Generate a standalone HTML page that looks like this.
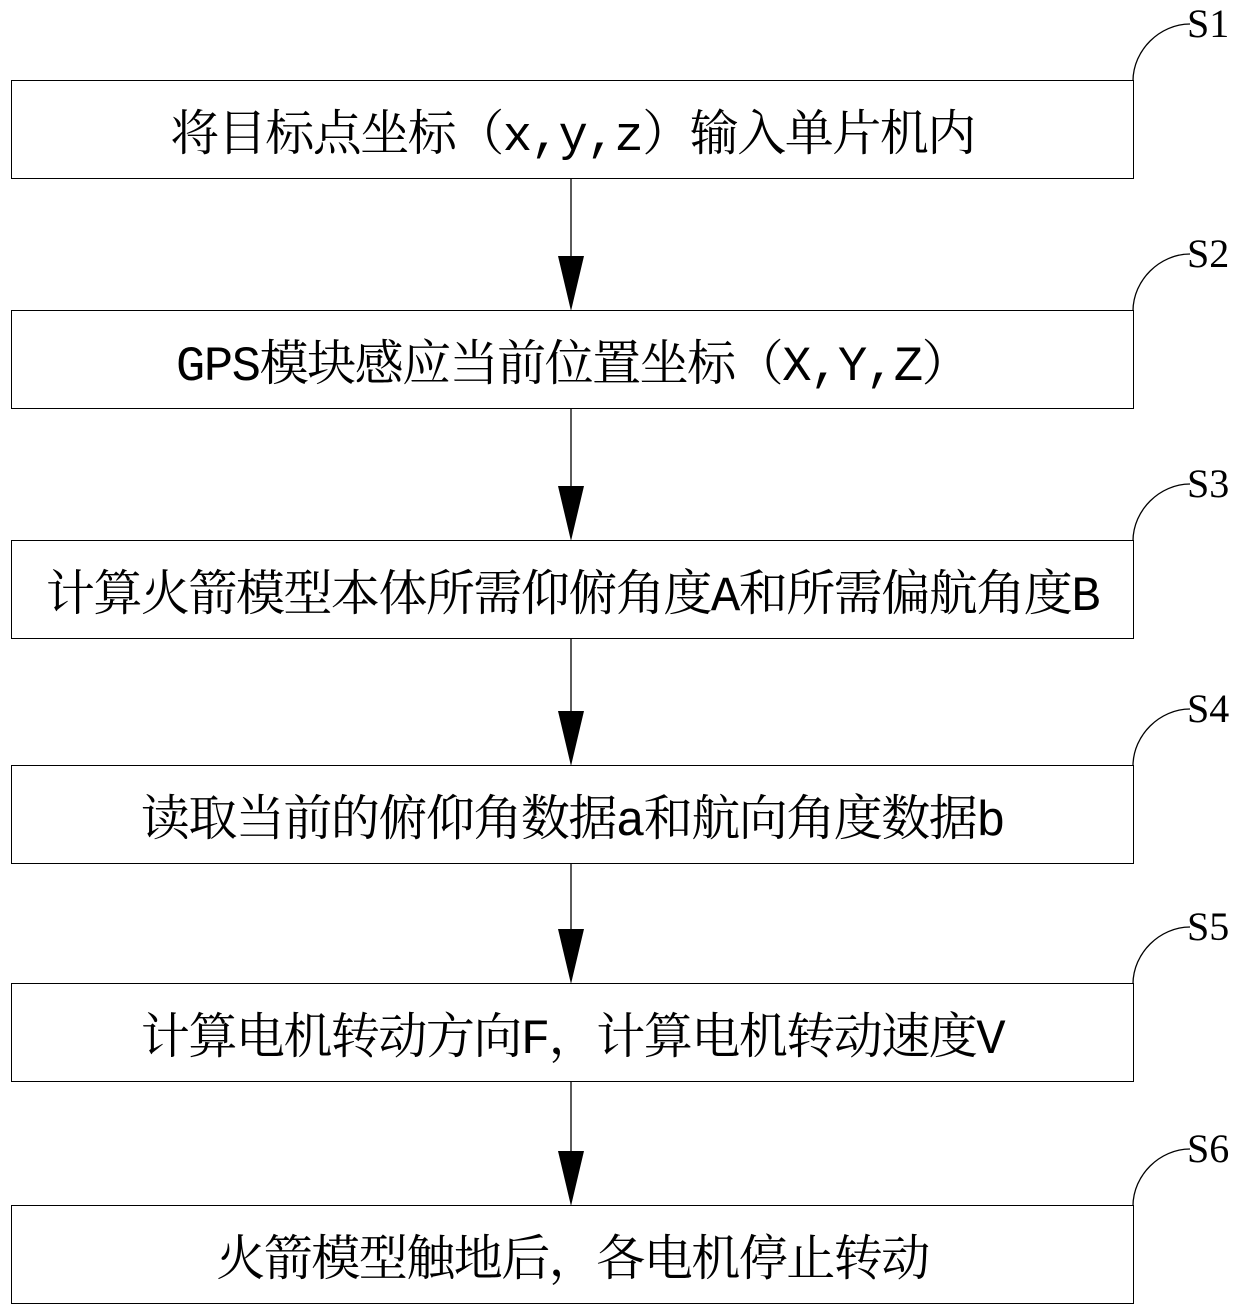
<!DOCTYPE html>
<html><head><meta charset="utf-8"><style>
body{margin:0;width:1240px;height:1314px;background:#fff;position:relative;overflow:hidden;}
.b{position:absolute;left:11px;width:1121px;height:97px;border:1.5px solid #000;display:flex;align-items:center;justify-content:center;font-size:49px;color:#000;white-space:nowrap;font-family:"Liberation Mono","Noto Serif CJK SC","Noto Sans CJK SC",serif;letter-spacing:-1.5px;}
.l{position:absolute;font-size:40px;left:1187px;line-height:40px;font-family:"Liberation Serif",serif;}
svg{position:absolute;left:0;top:0;}
</style></head><body>
<svg width="1240" height="1314">
<g fill="none" stroke="#000" stroke-width="1.3">
<path d="M1133 81 C1133 50 1160 24 1190 24"/>
<path d="M1133 311 C1133 280 1160 254 1190 254"/>
<path d="M1133 541 C1133 510 1160 484 1190 484"/>
<path d="M1133 766 C1133 735 1160 709 1190 709"/>
<path d="M1133 984 C1133 953 1160 927 1190 927"/>
<path d="M1133 1206 C1133 1175 1160 1149 1190 1149"/>
<line x1="571" y1="179" x2="571" y2="257"/>
<line x1="571" y1="409" x2="571" y2="487"/>
<line x1="571" y1="639" x2="571" y2="712"/>
<line x1="571" y1="864" x2="571" y2="930"/>
<line x1="571" y1="1082" x2="571" y2="1152"/>
</g>
<g fill="#000">
<polygon points="558,256 584,256 571,311"/>
<polygon points="558,486 584,486 571,541"/>
<polygon points="558,711 584,711 571,766"/>
<polygon points="558,929 584,929 571,984"/>
<polygon points="558,1151 584,1151 571,1206"/>
</g>
</svg>
<div class="b" style="top:80px">将目标点坐标（x,y,z）输入单片机内</div>
<div class="b" style="top:310px">GPS模块感应当前位置坐标（X,Y,Z）</div>
<div class="b" style="top:540px">计算火箭模型本体所需仰俯角度A和所需偏航角度B</div>
<div class="b" style="top:765px">读取当前的俯仰角数据a和航向角度数据b</div>
<div class="b" style="top:983px">计算电机转动方向F，计算电机转动速度V</div>
<div class="b" style="top:1205px">火箭模型触地后，各电机停止转动</div>
<div class="l" style="top:4px">S1</div>
<div class="l" style="top:234px">S2</div>
<div class="l" style="top:464px">S3</div>
<div class="l" style="top:689px">S4</div>
<div class="l" style="top:907px">S5</div>
<div class="l" style="top:1129px">S6</div>
</body></html>
